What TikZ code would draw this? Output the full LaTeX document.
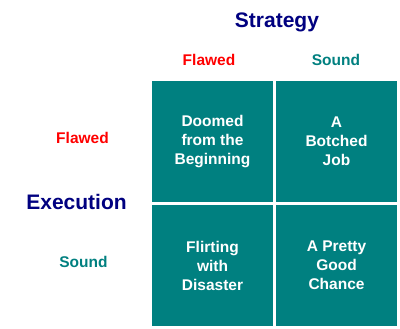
\documentclass[tikz,border=0pt]{standalone}
\usepackage{fontspec}
\setmainfont{Liberation Sans}
\definecolor{teal}{HTML}{008080}
\definecolor{navy}{HTML}{000080}
\definecolor{redlab}{HTML}{FF0000}
\begin{document}
\begin{tikzpicture}[x=1pt,y=-1pt,
  cell/.style={fill=teal,draw=none,minimum width=121pt,minimum height=121pt,inner sep=0pt,
    text=white,font=\bfseries\fontsize{15.5}{19}\selectfont,align=center},
  title/.style={text=navy,font=\bfseries\fontsize{21}{24}\selectfont,text height=15pt,text depth=0pt,inner sep=0pt},
  lab/.style={font=\bfseries\fontsize{15.5}{17}\selectfont,text height=11pt,text depth=0pt,inner sep=0pt}]
\useasboundingbox (0,0) rectangle (400,329);
\fill[white] (0,0) rectangle (400,329);
\node[cell] (c11) at (212.5,141.5) {Doomed\\from the\\Beginning};
\node[cell] (c12) at (336.5,141.5) {A\\Botched\\Job};
\node[cell] (c21) at (212.5,265.5) {Flirting\\with\\Disaster};
\node[cell] (c22) at (336.5,265.5) {A Pretty\\Good\\Chance};
\node[title] (strat) at (277,20) {Strategy};
\node[title] (exec) at (76.5,202) {Execution};
\node[lab,text=redlab] (sf) at (209,60) {Flawed};
\node[lab,text=teal] (ss) at (336,60) {Sound};
\node[lab,text=redlab] (ef) at (82.5,138.5) {Flawed};
\node[lab,text=teal] (es) at (83.5,262) {Sound};
\end{tikzpicture}
\end{document}
